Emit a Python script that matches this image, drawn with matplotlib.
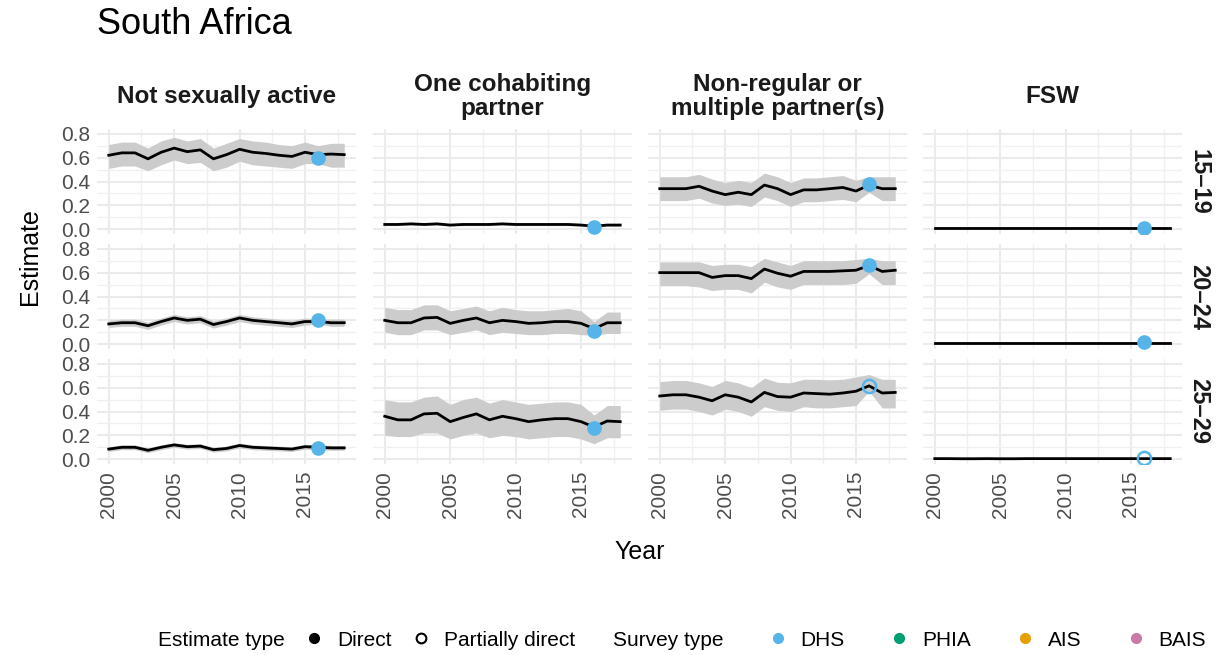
import numpy as np
import matplotlib
matplotlib.use("Agg")
import matplotlib.pyplot as plt
from matplotlib.lines import Line2D
from matplotlib.ticker import MultipleLocator

plt.rcParams['font.family'] = ['Liberation Sans', 'DejaVu Sans']

years = list(range(2000, 2019))
categories = ["Not sexually active", "One cohabiting\npartner",
              "Non-regular or\nmultiple partner(s)", "FSW"]
age_groups = ["15\u201319", "20\u201324", "25\u201329"]

# ---- 15-19 ----
nsa_15_est = [0.62,0.64,0.64,0.59,0.645,0.68,0.65,0.665,0.59,0.625,0.67,0.645,0.635,0.62,0.61,0.645,0.625,0.63,0.625]
nsa_15_lo  = [0.51,0.53,0.53,0.49,0.54,0.58,0.55,0.56,0.49,0.52,0.57,0.54,0.53,0.52,0.51,0.55,0.55,0.52,0.52]
nsa_15_hi  = [0.71,0.73,0.73,0.68,0.74,0.77,0.74,0.76,0.68,0.72,0.76,0.74,0.73,0.71,0.70,0.73,0.70,0.72,0.72]
coh_15_est = [0.04,0.04,0.045,0.04,0.045,0.035,0.04,0.04,0.04,0.045,0.04,0.04,0.04,0.04,0.04,0.035,0.025,0.035,0.035]
coh_15_lo  = [0.03,0.03,0.035,0.03,0.035,0.025,0.03,0.03,0.03,0.035,0.03,0.03,0.03,0.03,0.03,0.025,0.015,0.025,0.025]
coh_15_hi  = [0.05,0.05,0.055,0.05,0.055,0.045,0.05,0.05,0.05,0.055,0.05,0.05,0.05,0.05,0.05,0.045,0.035,0.045,0.045]
nrm_15_est = [0.34,0.34,0.34,0.36,0.32,0.29,0.31,0.29,0.37,0.34,0.29,0.33,0.33,0.34,0.35,0.32,0.37,0.34,0.34]
nrm_15_lo  = [0.24,0.24,0.24,0.26,0.22,0.20,0.21,0.19,0.27,0.24,0.19,0.23,0.23,0.24,0.25,0.23,0.31,0.24,0.24]
nrm_15_hi  = [0.44,0.44,0.44,0.46,0.42,0.39,0.41,0.39,0.47,0.44,0.39,0.43,0.43,0.44,0.45,0.41,0.44,0.44,0.44]
fsw_15_est = [0.01,0.01,0.01,0.01,0.01,0.01,0.01,0.01,0.01,0.01,0.01,0.01,0.01,0.01,0.01,0.01,0.01,0.01,0.01]
fsw_15_lo  = [0.005,0.005,0.005,0.005,0.005,0.005,0.005,0.005,0.005,0.005,0.005,0.005,0.005,0.005,0.005,0.005,0.005,0.005,0.005]
fsw_15_hi  = [0.015,0.015,0.015,0.015,0.015,0.015,0.015,0.015,0.015,0.015,0.015,0.015,0.015,0.015,0.015,0.015,0.015,0.015,0.015]

# ---- 20-24 ----
nsa_20_est = [0.17,0.18,0.18,0.155,0.19,0.22,0.20,0.21,0.165,0.19,0.22,0.20,0.19,0.18,0.17,0.19,0.19,0.18,0.18]
nsa_20_lo  = [0.14,0.15,0.15,0.125,0.16,0.19,0.17,0.18,0.135,0.16,0.19,0.17,0.16,0.15,0.14,0.16,0.17,0.15,0.15]
nsa_20_hi  = [0.20,0.21,0.21,0.185,0.22,0.25,0.23,0.24,0.195,0.22,0.25,0.23,0.22,0.21,0.20,0.22,0.21,0.21,0.21]
coh_20_est = [0.20,0.18,0.18,0.22,0.225,0.175,0.20,0.22,0.18,0.20,0.19,0.175,0.18,0.19,0.19,0.175,0.13,0.18,0.18]
coh_20_lo  = [0.10,0.08,0.08,0.12,0.12,0.08,0.10,0.12,0.08,0.10,0.09,0.08,0.08,0.09,0.09,0.08,0.075,0.09,0.09]
coh_20_hi  = [0.31,0.29,0.29,0.33,0.33,0.28,0.30,0.32,0.28,0.31,0.29,0.28,0.28,0.29,0.30,0.28,0.19,0.27,0.27]
nrm_20_est = [0.60,0.60,0.60,0.60,0.56,0.575,0.575,0.55,0.63,0.595,0.57,0.61,0.61,0.61,0.615,0.62,0.66,0.61,0.62]
nrm_20_lo  = [0.49,0.49,0.49,0.48,0.45,0.46,0.46,0.43,0.52,0.48,0.46,0.50,0.50,0.50,0.50,0.51,0.59,0.50,0.50]
nrm_20_hi  = [0.69,0.69,0.69,0.69,0.66,0.67,0.67,0.65,0.72,0.69,0.66,0.70,0.70,0.70,0.70,0.71,0.72,0.70,0.70]
fsw_20_est = [0.01,0.01,0.01,0.01,0.01,0.01,0.01,0.01,0.01,0.01,0.01,0.01,0.01,0.01,0.01,0.01,0.01,0.01,0.01]
fsw_20_lo  = [0.005,0.005,0.005,0.005,0.005,0.005,0.005,0.005,0.005,0.005,0.005,0.005,0.005,0.005,0.005,0.005,0.005,0.005,0.005]
fsw_20_hi  = [0.015,0.015,0.015,0.015,0.015,0.015,0.015,0.015,0.015,0.015,0.015,0.015,0.015,0.015,0.015,0.015,0.015,0.015,0.015]

# ---- 25-29 ----
nsa_25_est = [0.085,0.10,0.10,0.075,0.10,0.12,0.105,0.11,0.08,0.09,0.115,0.10,0.095,0.09,0.085,0.105,0.10,0.095,0.095]
nsa_25_lo  = [0.065,0.08,0.08,0.055,0.08,0.10,0.085,0.09,0.06,0.07,0.095,0.08,0.075,0.07,0.065,0.085,0.08,0.075,0.075]
nsa_25_hi  = [0.105,0.12,0.12,0.095,0.12,0.14,0.125,0.13,0.10,0.11,0.135,0.12,0.115,0.11,0.105,0.125,0.12,0.115,0.115]
coh_25_est = [0.36,0.33,0.33,0.38,0.385,0.315,0.35,0.38,0.33,0.36,0.34,0.315,0.33,0.34,0.34,0.315,0.27,0.32,0.315]
coh_25_lo  = [0.20,0.19,0.19,0.22,0.22,0.17,0.20,0.22,0.18,0.20,0.19,0.17,0.18,0.19,0.19,0.17,0.13,0.18,0.18]
coh_25_hi  = [0.50,0.48,0.48,0.52,0.53,0.46,0.50,0.52,0.47,0.50,0.48,0.46,0.47,0.48,0.48,0.46,0.37,0.45,0.45]
nrm_25_est = [0.53,0.54,0.54,0.52,0.49,0.54,0.52,0.48,0.56,0.525,0.52,0.555,0.55,0.545,0.555,0.57,0.615,0.555,0.56]
nrm_25_lo  = [0.41,0.42,0.42,0.40,0.37,0.42,0.40,0.36,0.44,0.41,0.40,0.44,0.43,0.43,0.44,0.45,0.57,0.43,0.43]
nrm_25_hi  = [0.65,0.66,0.66,0.64,0.61,0.66,0.64,0.60,0.68,0.645,0.64,0.67,0.67,0.665,0.67,0.69,0.71,0.67,0.67]
fsw_25_est = [0.005,0.005,0.004,0.004,0.005,0.004,0.004,0.005,0.005,0.005,0.005,0.005,0.005,0.005,0.005,0.005,0.005,0.005,0.005]
fsw_25_lo  = [0.002,0.002,0.001,0.001,0.002,0.001,0.001,0.002,0.002,0.002,0.002,0.002,0.002,0.002,0.002,0.002,0.002,0.002,0.002]
fsw_25_hi  = [0.009,0.009,0.008,0.008,0.009,0.008,0.008,0.009,0.009,0.009,0.009,0.009,0.009,0.009,0.009,0.009,0.009,0.009,0.009]

# ---- survey points (DHS 2016) ----
survey_year = 2016
survey_vals = [[0.60, 0.02, 0.38, 0.01],
               [0.20, 0.11, 0.66, 0.02],
               [0.09, 0.26, 0.61, 0.01]]
survey_direct = [[True, True, True, True],
                 [True, True, True, True],
                 [True, True, False, False]]

panels = [
    [(nsa_15_est, nsa_15_lo, nsa_15_hi), (coh_15_est, coh_15_lo, coh_15_hi),
     (nrm_15_est, nrm_15_lo, nrm_15_hi), (fsw_15_est, fsw_15_lo, fsw_15_hi)],
    [(nsa_20_est, nsa_20_lo, nsa_20_hi), (coh_20_est, coh_20_lo, coh_20_hi),
     (nrm_20_est, nrm_20_lo, nrm_20_hi), (fsw_20_est, fsw_20_lo, fsw_20_hi)],
    [(nsa_25_est, nsa_25_lo, nsa_25_hi), (coh_25_est, coh_25_lo, coh_25_hi),
     (nrm_25_est, nrm_25_lo, nrm_25_hi), (fsw_25_est, fsw_25_lo, fsw_25_hi)],
]

DHS = "#56B4E9"
PHIA = "#009E73"
AIS = "#E69F00"
BAIS = "#CC79A7"
TICK_COL = "#4D4D4D"

W, H = 1225, 655
fig = plt.figure(figsize=(W / 100, H / 100), dpi=100)

col_left = [97, 373, 648, 923]
row_top = [129, 244, 359]
pw, ph = 259, 105

for r in range(3):
    for c in range(4):
        ax = fig.add_axes([col_left[c] / W, 1 - (row_top[r] + ph) / H, pw / W, ph / H])
        est, lo, hi = panels[r][c]
        ax.fill_between(years, lo, hi, color="#CCCCCC", lw=0, zorder=2)
        ax.plot(years, est, color="black", lw=2.0, zorder=3)
        if survey_direct[r][c]:
            ax.plot([survey_year], [survey_vals[r][c]], "o", ms=9.5, color=DHS,
                    mec=DHS, zorder=4)
        else:
            ax.plot([survey_year], [survey_vals[r][c]], "o", ms=9.5, mfc="none",
                    mec=DHS, mew=1.8, zorder=4)
        ax.set_xlim(1999.1, 2018.9)
        ax.set_ylim(-0.04, 0.84)
        ax.xaxis.set_major_locator(MultipleLocator(5))
        ax.xaxis.set_minor_locator(MultipleLocator(2.5))
        ax.yaxis.set_major_locator(MultipleLocator(0.2))
        ax.yaxis.set_minor_locator(MultipleLocator(0.1))
        ax.grid(which="major", color="#EBEBEB", lw=1.5, zorder=0)
        ax.grid(which="minor", color="#F0F0F0", lw=1.0, zorder=0)
        ax.set_axisbelow(True)
        for s in ax.spines.values():
            s.set_visible(False)
        ax.tick_params(which="both", length=0, labelsize=15, labelcolor=TICK_COL, pad=5)
        if c == 0:
            ax.set_yticks([0.0, 0.2, 0.4, 0.6, 0.8])
            ax.set_yticklabels(["0.0", "0.2", "0.4", "0.6", "0.8"])
        else:
            ax.set_yticklabels([])
        if r == 2:
            ax.set_xticks([2000, 2005, 2010, 2015])
            ax.set_xticklabels(["2000", "2005", "2010", "2015"], rotation=90)
        else:
            ax.set_xticklabels([])
        if r == 0:
            ax.text(0.5, 1.31, categories[c], transform=ax.transAxes, ha="center",
                    va="center", fontsize=17.5, fontweight="bold", color="#1A1A1A",
                    linespacing=1.1)
        if c == 3:
            ax.text(1.065, 0.5, age_groups[r], transform=ax.transAxes, ha="center",
                    va="center", rotation=270, fontsize=17, fontweight="bold",
                    color="#1A1A1A")

fig.text(97 / W, 1 - 25 / H, "South Africa", fontsize=26, ha="left", va="center")
fig.text(30 / W, 1 - 257 / H, "Estimate", fontsize=18, rotation=90, ha="center", va="center")
fig.text(640 / W, 1 - 552 / H, "Year", fontsize=18, ha="center", va="center")

# legends
blank = Line2D([], [], linestyle="none", marker=None)
h1 = [blank,
      Line2D([], [], linestyle="none", marker="o", ms=7, color="black"),
      Line2D([], [], linestyle="none", marker="o", ms=7, mfc="none", mec="black", mew=1.5)]
l1 = ["Estimate type", "Direct", "Partially direct"]
leg1 = fig.legend(h1, l1, ncol=3, loc="center", bbox_to_anchor=(350 / W, 1 - 640 / H),
                  frameon=False, fontsize=15, handlelength=1.0, handletextpad=0.6,
                  columnspacing=0.9)
h2 = [blank] + [Line2D([], [], linestyle="none", marker="o", ms=7, color=col)
                for col in (DHS, PHIA, AIS, BAIS)]
l2 = ["Survey type", "DHS", "PHIA", "AIS", "BAIS"]
leg2 = fig.legend(h2, l2, ncol=5, loc="center", bbox_to_anchor=(893 / W, 1 - 640 / H),
                  frameon=False, fontsize=15, handlelength=1.0, handletextpad=0.6,
                  columnspacing=2.1)

fig.savefig("out.png", dpi=100, facecolor="white")
